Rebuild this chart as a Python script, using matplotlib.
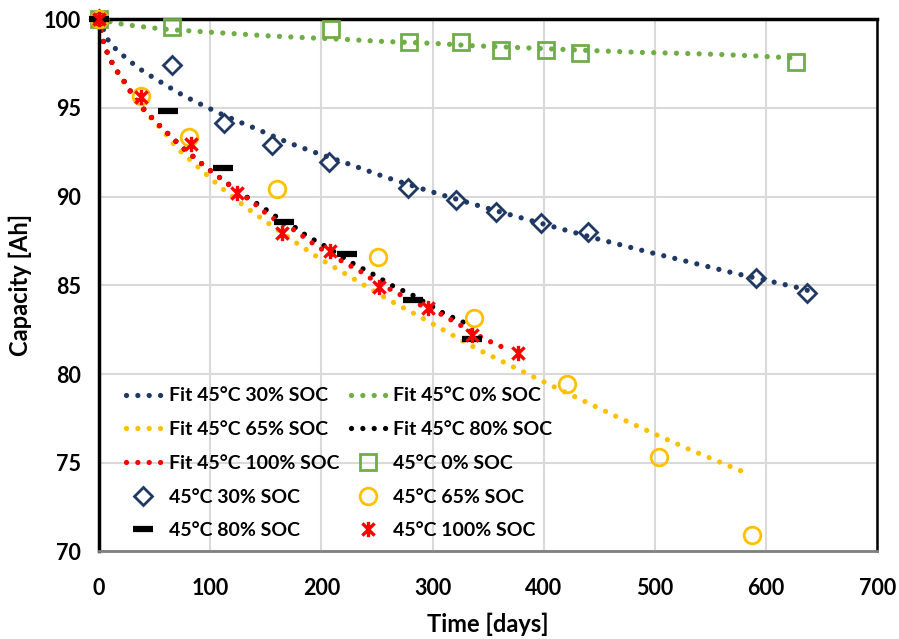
import matplotlib
matplotlib.use("Agg")
import matplotlib.pyplot as plt
from matplotlib.path import Path

plt.rcParams['font.family'] = ['Lato', 'DejaVu Sans']
plt.rcParams['font.weight'] = 'bold'

# ---- measured capacity (days, Ah) ----
soc0_t = [0, 65.4, 209, 279, 325.5, 361.5, 402, 433, 626.5]
soc0_c = [100, 99.58, 99.43, 98.73, 98.73, 98.26, 98.26, 98.08, 97.6]

soc30_t = [0, 65.4, 112.5, 155.4, 207, 277.5, 321, 357, 397.5, 439.5, 590.4, 636.6]
soc30_c = [100, 97.42, 94.13, 92.91, 91.94, 90.47, 89.81, 89.15, 88.54, 88.03, 85.4, 84.56]

soc65_t = [0, 37.5, 81, 160.5, 251.4, 337.5, 421, 504, 587.5]
soc65_c = [100, 95.67, 93.38, 90.43, 86.62, 83.15, 79.45, 75.32, 70.94]

soc80_t = [0, 62.4, 111.6, 166.5, 223.5, 282, 335.4]
soc80_c = [100, 94.83, 91.6, 88.59, 86.77, 84.18, 81.97]

soc100_t = [0, 37.5, 82.5, 124.5, 164.4, 207.6, 252, 295.5, 335.4, 376.5]
soc100_c = [100, 95.63, 92.97, 90.19, 87.94, 86.96, 84.93, 83.71, 82.21, 81.18]

# ---- fitted curves (days, Ah) ----
fit0_t = [0, 12, 22, 33, 45, 57, 69, 79.5, 91.5, 114, 149.4, 184.5, 219, 253.5,
          300, 334.5, 381.6, 415.5, 451.5, 486, 520.5, 555, 589.5, 613.5, 628]
fit0_c = [100, 99.82, 99.71, 99.62, 99.53, 99.45, 99.39, 99.35, 99.3, 99.21, 99.07,
          98.96, 98.87, 98.75, 98.64, 98.51, 98.39, 98.3, 98.21, 98.13, 98.08,
          98.02, 97.93, 97.85, 97.8]

fit30_t = [0, 9, 17, 25.5, 35, 45, 55, 65, 75, 85.5, 96, 106.5, 127, 138, 170.4,
           192, 225, 258, 291, 313.5, 360, 400, 447.6, 492.6, 537.6, 571.5, 600,
           628.5, 637]
fit30_c = [100, 98.73, 98.2, 97.76, 97.27, 96.86, 96.48, 96.1, 95.73, 95.39, 95.07,
           94.75, 94.19, 93.91, 93.04, 92.54, 91.83, 91.09, 90.43, 90.0, 89.15,
           88.45, 87.63, 86.9, 86.21, 85.68, 85.28, 84.87, 84.72]

fit65_t = [0, 4.5, 9, 14, 20, 39, 57, 70.5, 87, 110, 132, 151.5, 180, 199.5, 229.5,
           259.5, 289.5, 340.5, 372, 403.5, 435, 466.5, 498, 529.5, 562, 586]
fit65_c = [100, 98.59, 97.89, 97.27, 96.63, 94.94, 93.76, 92.72, 91.79, 90.5, 89.4,
           88.54, 87.28, 86.47, 85.35, 84.22, 83.2, 81.4, 80.42, 79.45, 78.51,
           77.57, 76.67, 75.79, 74.94, 74.32]

fit80_t = [0, 4.5, 9, 14, 21, 27, 33, 41, 49.5, 57.6, 66, 74, 83, 92, 100.5, 127.5,
           148.5, 158.4, 177.6, 187.5, 198, 228, 247.5, 267.6, 279, 309, 319.5, 332]
fit80_c = [100, 98.59, 97.89, 97.27, 96.67, 96.07, 95.5, 94.88, 94.32, 93.81, 93.32,
           92.82, 92.35, 91.88, 91.45, 90.2, 89.34, 88.91, 88.22, 87.75, 87.41,
           86.25, 85.59, 84.84, 84.56, 83.46, 83.15, 82.8]

fit100_t = [0, 4.5, 9, 14, 21, 27, 33, 41, 49.5, 57.6, 66, 74, 83, 92, 100.5, 127.5,
            138, 147, 156.6, 175.5, 195.6, 215.4, 235.5, 245.4, 265.5, 285.6, 306,
            348, 358.5, 369]
fit100_c = [100, 98.59, 97.89, 97.27, 96.67, 96.07, 95.5, 94.88, 94.32, 93.81, 93.32,
            92.82, 92.35, 91.88, 91.45, 90.15, 89.72, 89.21, 88.78, 88.12, 87.22,
            86.47, 85.77, 85.35, 84.65, 83.99, 83.43, 81.93, 81.65, 81.32]

x_ticks = [0, 100, 200, 300, 400, 500, 600, 700]
y_ticks = [70, 75, 80, 85, 90, 95, 100]

NAVY = '#203864'
GREEN = '#70AD47'
ORANGE = '#FFC000'
RED = '#FF0000'
BLACK = '#000000'

# Excel-style star: an X with a vertical bar through it
star = Path([(0, -1), (0, 1), (-0.8, -0.8), (0.8, 0.8), (-0.8, 0.8), (0.8, -0.8)],
            [Path.MOVETO, Path.LINETO, Path.MOVETO, Path.LINETO, Path.MOVETO, Path.LINETO])

fig = plt.figure(figsize=(8.99, 6.39), dpi=100)
ax = fig.add_axes([0.110, 0.137, 0.866, 0.833])

dot = dict(linestyle=(0, (0.001, 2.15)), linewidth=3.8, dash_capstyle='round')

h_f30, = ax.plot(fit30_t, fit30_c, color=NAVY, label='Fit 45°C 30% SOC', **dot)
h_f0, = ax.plot(fit0_t, fit0_c, color=GREEN, label='Fit 45°C 0% SOC', **dot)
h_f65, = ax.plot(fit65_t, fit65_c, color=ORANGE, label='Fit 45°C 65% SOC', **dot)
h_f80, = ax.plot(fit80_t, fit80_c, color=BLACK, label='Fit 45°C 80% SOC', **dot)
h_f100, = ax.plot(fit100_t, fit100_c, color=RED, label='Fit 45°C 100% SOC', **dot)

mk = dict(linestyle='none', clip_on=False, zorder=4)
h_0, = ax.plot(soc0_t, soc0_c, marker='s', markersize=12,
               markerfacecolor='none', markeredgecolor=GREEN, markeredgewidth=2,
               label='45°C 0% SOC', **mk)
h_30, = ax.plot(soc30_t, soc30_c, marker='D', markersize=9.5,
                markerfacecolor='none', markeredgecolor=NAVY, markeredgewidth=2,
                label='45°C 30% SOC', **mk)
h_65, = ax.plot(soc65_t, soc65_c, marker='o', markersize=12,
                markerfacecolor='none', markeredgecolor=ORANGE, markeredgewidth=2,
                label='45°C 65% SOC', **mk)
h_80, = ax.plot(soc80_t, soc80_c, marker='_', markersize=14,
                markeredgecolor=BLACK, markeredgewidth=4.5, label='45°C 80% SOC', **mk)
h_100, = ax.plot(soc100_t, soc100_c, marker=star, markersize=11,
                 markerfacecolor='none', markeredgecolor=RED, markeredgewidth=2.4,
                 label='45°C 100% SOC', **mk)

ax.set_xlim(0, 700)
ax.set_ylim(70, 100)
ax.set_xticks(x_ticks)
ax.set_yticks(y_ticks)
ax.tick_params(axis='both', length=0, labelsize=15.5)
ax.tick_params(axis='x', pad=19)
ax.tick_params(axis='y', pad=13)
for lab in ax.get_xticklabels() + ax.get_yticklabels():
    lab.set_fontweight('bold')

ax.grid(True, color='#D9D9D9', linewidth=1.5)
ax.set_axisbelow(True)

for side in ('left', 'top'):
    ax.spines[side].set_color('black')
    ax.spines[side].set_linewidth(2.5)
ax.spines['right'].set_color('black')
ax.spines['right'].set_linewidth(1.8)
ax.spines['bottom'].set_color('#808080')
ax.spines['bottom'].set_linewidth(2)

ax.set_xlabel('Time [days]', fontsize=17, fontweight='bold', labelpad=10)
ax.set_ylabel('Capacity [Ah]', fontsize=17, fontweight='bold', labelpad=8)

handles = [h_f30, h_f65, h_f100, h_30, h_80, h_f0, h_f80, h_0, h_65, h_100]
leg = ax.legend(handles=handles, ncol=2, loc='lower left',
                bbox_to_anchor=(0.012, -0.01), frameon=False,
                handlelength=1.8, columnspacing=0.6, labelspacing=0.86,
                handletextpad=0.4, prop={'weight': 'bold', 'size': 14})

fig.savefig('out.png', dpi=100)
